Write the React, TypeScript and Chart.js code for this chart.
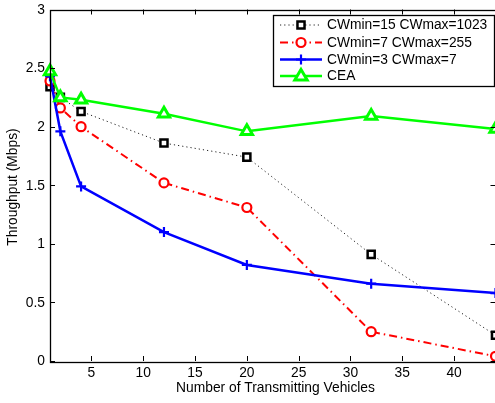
import React, { useEffect, useRef } from "react";
import { Chart, registerables } from "chart.js";

Chart.register(...registerables);

const xValues = [1, 2, 4, 12, 20, 32, 44];
const cw15Values = [2.34, 2.25, 2.13, 1.86, 1.74, 0.91, 0.22];
const cw7Values = [2.39, 2.16, 2.0, 1.52, 1.31, 0.25, 0.04];
const cw3Values = [2.43, 1.96, 1.49, 1.1, 0.82, 0.66, 0.58];
const ceaValues = [2.47, 2.25, 2.23, 2.11, 1.96, 2.09, 1.98];
const seriesLabels = ["CWmin=15 CWmax=1023", "CWmin=7 CWmax=255", "CWmin=3 CWmax=7", "CEA"];
const xTicks = [5, 10, 15, 20, 25, 30, 35, 40];
const yTicks = [0, 0.5, 1, 1.5, 2, 2.5, 3];
const xTitle = "Number of Transmitting Vehicles";
const yTitle = "Throughput (Mbps)";

const FONT = "Liberation Sans, Arial, sans-serif";
const FS = 13.8;

function drawMarker(ctx: CanvasRenderingContext2D, style: string, x: number, y: number, r: number, color: string, lw: number) {
  ctx.save();
  ctx.setLineDash([]);
  ctx.strokeStyle = color;
  ctx.lineWidth = lw;
  ctx.fillStyle = "#ffffff";
  ctx.beginPath();
  if (style === "rect") {
    const s = r * Math.SQRT1_2;
    ctx.rect(x - s, y - s, 2 * s, 2 * s);
    ctx.fill();
    ctx.stroke();
  } else if (style === "circle") {
    ctx.arc(x, y, r, 0, Math.PI * 2);
    ctx.fill();
    ctx.stroke();
  } else if (style === "cross") {
    ctx.moveTo(x - r, y);
    ctx.lineTo(x + r, y);
    ctx.moveTo(x, y - r);
    ctx.lineTo(x, y + r);
    ctx.stroke();
  } else if (style === "triangle") {
    ctx.moveTo(x, y - r);
    ctx.lineTo(x + r * 0.95, y + r * 0.6);
    ctx.lineTo(x - r * 0.95, y + r * 0.6);
    ctx.closePath();
    ctx.fill();
    ctx.stroke();
  }
  ctx.restore();
}

export default function App() {
  const ref = useRef<HTMLCanvasElement | null>(null);

  useEffect(() => {
    if (!ref.current) return;
    const styles = [
      { color: "#222222", dash: [1.2, 3], width: 1, point: "rect", r: 5, plw: 2.5, pcolor: "#000000" },
      { color: "#ff0000", dash: [8, 4, 1.5, 4], width: 2, point: "circle", r: 4.5, plw: 2.2, pcolor: "#ff0000" },
      { color: "#0000ff", dash: [], width: 2.5, point: "cross", r: 5, plw: 2.2, pcolor: "#0000ff" },
      { color: "#00ff00", dash: [], width: 2.5, point: "triangle", r: 6.5, plw: 3, pcolor: "#00ff00" },
    ];
    const values = [cw15Values, cw7Values, cw3Values, ceaValues];

    const framePlugin = {
      id: "frame",
      afterDraw(chart: any) {
        const ctx: CanvasRenderingContext2D = chart.ctx;
        const a = chart.chartArea;
        const xs = chart.scales.x;
        const ys = chart.scales.y;
        ctx.save();
        ctx.strokeStyle = "#000";
        ctx.lineWidth = 1;
        ctx.setLineDash([]);
        ctx.beginPath();
        for (const t of xTicks) {
          const px = Math.round(xs.getPixelForValue(t)) + 0.5;
          ctx.moveTo(px, a.bottom);
          ctx.lineTo(px, a.bottom - 5);
          ctx.moveTo(px, a.top);
          ctx.lineTo(px, a.top + 5);
        }
        for (const t of yTicks) {
          const py = Math.round(ys.getPixelForValue(t)) + 0.5;
          ctx.moveTo(a.left, py);
          ctx.lineTo(a.left + 5, py);
          ctx.moveTo(a.right, py);
          ctx.lineTo(a.right - 5, py);
        }
        ctx.stroke();
        ctx.lineWidth = 1.3;
        ctx.strokeRect(Math.round(a.left) + 0.5, Math.round(a.top) + 0.5, Math.round(a.right - a.left), Math.round(a.bottom - a.top));

        // tick labels
        ctx.fillStyle = "#000";
        ctx.font = `${FS}px ${FONT}`;
        ctx.textAlign = "center";
        ctx.textBaseline = "middle";
        for (const t of xTicks) {
          ctx.fillText(String(t), xs.getPixelForValue(t), a.bottom + 12);
        }
        ctx.textAlign = "right";
        for (const t of yTicks) {
          ctx.fillText(String(t), a.left - 5, ys.getPixelForValue(t) + 0.5);
        }

        // titles
        ctx.textAlign = "center";
        ctx.fillText(xTitle, 275.5, 388);
        ctx.save();
        ctx.translate(13, 187);
        ctx.rotate(-Math.PI / 2);
        ctx.fillText(yTitle, 0, 0);
        ctx.restore();

        // legend
        const lx = 273, ly = 15, lw = 221, lh = 71;
        ctx.fillStyle = "#fff";
        ctx.fillRect(lx, ly, lw, lh);
        ctx.strokeStyle = "#000";
        ctx.lineWidth = 1.3;
        ctx.strokeRect(lx + 0.5, ly + 0.5, lw, lh);
        const rows = [25, 42.5, 59.5, 76];
        styles.forEach((s, i) => {
          const y = rows[i];
          ctx.save();
          ctx.strokeStyle = s.color;
          ctx.lineWidth = s.width;
          ctx.setLineDash(s.dash);
          ctx.beginPath();
          ctx.moveTo(280, y);
          ctx.lineTo(322, y);
          ctx.stroke();
          ctx.restore();
          drawMarker(ctx, s.point, 301, y, s.r, s.pcolor, s.plw);
          ctx.fillStyle = "#000";
          ctx.font = `${FS}px ${FONT}`;
          ctx.textAlign = "left";
          ctx.textBaseline = "middle";
          ctx.fillText(seriesLabels[i], 327, y + 0.5);
        });
        ctx.restore();
      },
    };

    const chart = new Chart(ref.current, {
      type: "line",
      data: {
        datasets: styles.map((s, i) => ({
          label: seriesLabels[i],
          data: xValues.map((x, j) => ({ x, y: values[i][j] })),
          borderColor: s.color,
          borderWidth: s.width,
          borderDash: s.dash,
          pointStyle: s.point as any,
          pointRadius: s.r,
          pointBorderWidth: s.plw,
          pointBorderColor: s.pcolor,
          pointBackgroundColor: "#ffffff",
          tension: 0,
          fill: false,
          clip: false as any,
          order: 3 - i,
        })),
      },
      options: {
        animation: false,
        responsive: false,
        events: [],
        layout: { padding: { left: 50, top: 8, right: 7.5, bottom: 42 } },
        plugins: { legend: { display: false }, tooltip: { enabled: false } },
        scales: {
          x: {
            type: "linear",
            min: 1,
            max: 44,
            afterBuildTicks: (scale: any) => {
              scale.ticks = xTicks.map((v) => ({ value: v }));
            },
            grid: { display: false, drawTicks: false },
            border: { display: false },
            ticks: { display: false },
          },
          y: {
            type: "linear",
            min: 0,
            max: 3,
            afterBuildTicks: (scale: any) => {
              scale.ticks = yTicks.map((v) => ({ value: v }));
            },
            grid: { display: false, drawTicks: false },
            border: { display: false },
            ticks: { display: false },
          },
        },
      },
      plugins: [framePlugin],
    });
    return () => chart.destroy();
  }, []);

  return (
    <div style={{ position: "fixed", left: 0, top: 0, width: 495, height: 403, overflow: "hidden", background: "#fff" }}>
      <canvas ref={ref} width={505} height={403} style={{ width: 505, height: 403, display: "block" }} />
    </div>
  );
}
